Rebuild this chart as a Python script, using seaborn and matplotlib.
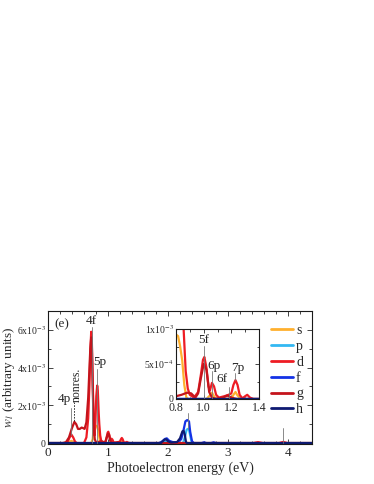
import matplotlib
matplotlib.use('Agg')

import numpy as np
import pandas as pd
import matplotlib.pyplot as plt
from matplotlib.ticker import MultipleLocator, FuncFormatter
import seaborn as sns

# partial-wave spectra (energy in eV, w_l in units of 1e-3)
e_s = [0, 0.33, 0.36, 0.39, 0.42, 0.45, 0.72, 0.745, 0.76, 0.78, 0.80, 0.815, 0.83, 0.845,
       0.86, 0.875, 0.89, 1.02, 1.045, 1.06, 1.08, 1.2, 1.215, 1.23, 1.245, 1.27, 4.4]
w_s = [0, 0, 0.06, 0.12, 0.06, 0, 0, 0.2, 0.8, 0.9, 0.92, 0.9, 0.75, 0.55,
       0.2, 0.02, 0, 0, 0.05, 0.09, 0.02, 0, 0.06, 0.1, 0.05, 0, 0]

e_p = [0, 1.9, 1.96, 2.02, 2.25, 2.28, 2.31, 2.33, 2.35, 2.37, 2.39, 2.41, 4.4]
w_p = [0, 0, 0.1, 0, 0, 0.3, 0.7, 0.75, 0.7, 0.4, 0.1, 0, 0]

e_d = [0, 0.3, 0.33, 0.36, 0.39, 0.42, 0.45, 0.48, 0.6, 0.64, 0.67, 0.69, 0.705, 0.72,
       0.73, 0.745, 0.76, 0.775, 0.79, 0.805, 0.82, 0.83, 0.845, 0.855, 0.87, 0.885, 0.9,
       0.93, 0.96, 0.98, 0.995, 1.005, 1.02, 1.035, 1.045, 1.06, 1.075, 1.09, 1.11, 1.15,
       1.18, 1.2, 1.215, 1.23, 1.245, 1.26, 1.28, 1.3, 1.315, 1.335, 1.36, 3.42, 3.5,
       3.58, 3.85, 3.92, 3.99, 4.4]
w_d = [0, 0, 0.08, 0.3, 0.45, 0.3, 0.08, 0, 0, 0.3, 1.3, 3.0, 4.8, 5.9,
       5.5, 3.4, 1.2, 0.4, 1.1, 2.5, 3.05, 2.8, 1.6, 1.0, 0.4, 0.15, 0.06,
       0.02, 0.1, 0.35, 0.56, 0.6, 0.45, 0.18, 0.12, 0.23, 0.18, 0.06, 0.02, 0.04,
       0.06, 0.08, 0.2, 0.27, 0.2, 0.06, 0.01, 0.04, 0.06, 0.02, 0, 0, 0.05,
       0, 0, 0.06, 0, 0]

e_f = [0, 1.85, 1.9, 1.95, 1.98, 2.02, 2.08, 2.15, 2.22, 2.26, 2.29, 2.32, 2.35, 2.37,
       2.40, 2.43, 2.56, 2.6, 2.64, 2.72, 2.76, 2.8, 4.4]
w_f = [0, 0, 0.08, 0.22, 0.25, 0.12, 0.05, 0.02, 0.2, 0.7, 1.15, 1.22, 1.15, 0.6,
       0.1, 0, 0, 0.04, 0, 0, 0.04, 0, 0]

e_g = [0, 0.25, 0.3, 0.35, 0.4, 0.44, 0.47, 0.5, 0.53, 0.56, 0.58, 0.61, 0.64, 0.67,
       0.69, 0.705, 0.72, 0.73, 0.745, 0.76, 0.78, 0.8, 0.84, 0.88, 0.91, 0.94, 0.96,
       0.98, 1.0, 1.02, 1.04, 1.06, 1.09, 1.14, 1.17, 1.2, 1.24, 4.4]
w_g = [0, 0, 0.05, 0.3, 0.8, 1.12, 1.0, 0.75, 0.75, 0.82, 0.8, 0.75, 1.1, 2.4,
       3.9, 5.0, 5.6, 5.3, 3.0, 1.0, 0.2, 0.04, 0.06, 0.09, 0.08, 0.02, 0.08,
       0.3, 0.5, 0.42, 0.1, 0.02, 0, 0.02, 0.05, 0.02, 0, 0]

e_h = [0, 1.88, 1.94, 1.97, 2.0, 2.05, 2.15, 2.2, 2.24, 2.26, 2.28, 2.30, 2.32, 4.4]
w_h = [0, 0, 0.18, 0.2, 0.1, 0.03, 0.05, 0.25, 0.62, 0.65, 0.45, 0.05, 0, 0]

channels = ['s', 'p', 'd', 'f', 'g', 'h']
colors = ['#FFB02E', '#33B8F2', '#EE1C24', '#1432E6', '#C4141C', '#0E1A72']

# peak labels: (text, energy, line bottom, line top, label x, label y), w in 1e-3
main_peaks = [('4f', 0.725, 0.0, 6.15, 0.725, 6.45),
              ('5p', 0.81, 0.0, 3.95, 0.87, 4.3),
              ('4p', 0.39, 0.45, 1.85, 0.28, 2.35)]
inset_peaks = [('5f', 1.005, 0.0, 0.76, 0.997, 0.84),
               ('6p', 1.06, 0.0, 0.4, 1.077, 0.47),
               ('6f', 1.18, 0.0, 0.17, 1.135, 0.29),
               ('7p', 1.225, 0.27, 0.37, 1.243, 0.44)]
extra_marks = [(2.34, 0.75, 1.6), (3.92, 0.0, 0.8)]

series = {'s': (e_s, w_s), 'p': (e_p, w_p), 'd': (e_d, w_d),
          'f': (e_f, w_f), 'g': (e_g, w_g), 'h': (e_h, w_h)}
frames = []
for ch in channels:
    e, w = series[ch]
    frames.append(pd.DataFrame({'energy': e, 'w': np.array(w) * 1e-3, 'channel': ch}))
df = pd.concat(frames, ignore_index=True)

sns.set_theme(style='ticks')
plt.rcParams['font.family'] = ['Liberation Serif', 'DejaVu Serif']
plt.rcParams['mathtext.fontset'] = 'stix'
plt.rcParams['xtick.direction'] = 'in'
plt.rcParams['ytick.direction'] = 'in'

fig = plt.figure(figsize=(3.74, 4.84), dpi=100)
ax = fig.add_axes([48 / 374, 40 / 484, 264 / 374, 133 / 484])
axin = fig.add_axes([176 / 374, 85 / 484, 83 / 374, 70 / 484])

palette = dict(zip(channels, colors))
for a in (ax, axin):
    sns.lineplot(data=df, x='energy', y='w', hue='channel', hue_order=channels,
                 palette=palette, estimator=None, sort=False, linewidth=1.6,
                 legend=False, ax=a)

gray = '#777777'
for name, x, y0, y1, tx, ty in main_peaks:
    ax.plot([x, x], [y0 * 1e-3, y1 * 1e-3], color=gray, lw=0.6)
    ax.text(tx, ty * 1e-3, name, ha='center', va='center', fontsize=9.5)
for x, y0, y1 in extra_marks:
    ax.plot([x, x], [y0 * 1e-3, y1 * 1e-3], color=gray, lw=0.6)
ax.plot([0.425, 0.425], [1.15e-3, 2.2e-3], color='k', lw=0.6, ls=(0, (2, 1.5)))
ax.text(0.475, 2.15e-3, 'nonres.', rotation=90, ha='center', va='bottom', fontsize=8.5)
ax.text(0.23, 6.3e-3, '(e)', ha='center', va='center', fontsize=9.5)

for name, x, y0, y1, tx, ty in inset_peaks:
    axin.plot([x, x], [y0 * 1e-3, y1 * 1e-3], color=gray, lw=0.6)
    axin.text(tx, ty * 1e-3, name, ha='center', va='center', fontsize=9.5)

def sci(v, pos):
    if v == 0:
        return '0'
    exp = int(np.floor(np.log10(abs(v)) + 1e-9))
    mant = v / 10 ** exp
    return '%dx10$^{%d}$' % (round(mant), exp)

ax.set_xlim(0, 4.4)
ax.set_ylim(-0.05e-3, 7e-3)
ax.xaxis.set_major_locator(MultipleLocator(1))
ax.xaxis.set_minor_locator(MultipleLocator(0.2))
ax.yaxis.set_major_locator(MultipleLocator(2e-3))
ax.yaxis.set_minor_locator(MultipleLocator(1e-3))
ax.yaxis.set_major_formatter(FuncFormatter(sci))
ax.tick_params(which='both', top=True, right=True, width=0.6)
ax.tick_params(which='major', length=3.5, labelsize=9.5, pad=2)
ax.tick_params(axis='y', which='major', labelsize=7, pad=1.5)
ax.tick_params(which='minor', length=2)
ax.set_xlabel('Photoelectron energy (eV)', fontsize=10, labelpad=2)
ax.set_ylabel('$w_{\\,l}$ (arbitrary units)', fontsize=9.5)
ax.yaxis.set_label_coords(-0.118, 0.5)

axin.set_xlim(0.8, 1.4)
axin.set_ylim(0, 1e-3)
axin.xaxis.set_major_locator(MultipleLocator(0.2))
axin.xaxis.set_minor_locator(MultipleLocator(0.1))
axin.yaxis.set_major_locator(MultipleLocator(5e-4))
axin.yaxis.set_minor_locator(MultipleLocator(2.5e-4))
axin.yaxis.set_major_formatter(FuncFormatter(sci))
axin.xaxis.set_major_formatter(FuncFormatter(lambda v, p: '%.1f' % v))
axin.tick_params(which='both', top=True, right=True, width=0.6)
axin.tick_params(which='major', length=3, labelsize=8.5, pad=2)
axin.tick_params(axis='y', which='major', labelsize=7, pad=1.5)
axin.tick_params(which='minor', length=1.8)
axin.set_xlabel('')
axin.set_ylabel('')

for a in (ax, axin):
    for sp in a.spines.values():
        sp.set_linewidth(0.8)
        sp.set_color('k')

handles = [plt.Line2D([], [], color=c, lw=2) for c in colors]
ax.legend(handles, channels, loc='upper left', bbox_to_anchor=(0.845, 0.90),
          frameon=False, fontsize=10, handlelength=1.6, handletextpad=0.2,
          labelspacing=0.2, borderpad=0, borderaxespad=0)

fig.savefig('out.png', dpi=100)
